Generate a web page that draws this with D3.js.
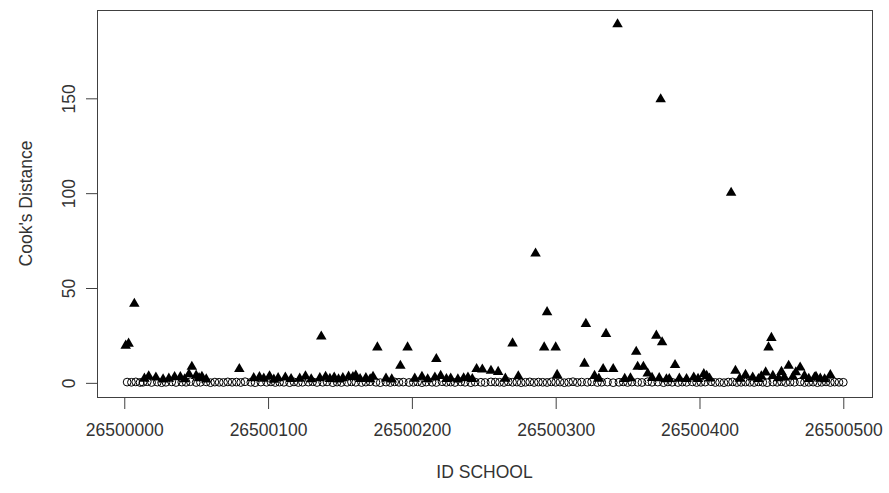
<html>
<head>
<meta charset="utf-8">
<script src="https://d3js.org/d3.v7.min.js"></script>
<style type="text/css">
    body { margin: 0; background: #ffffff; }
    #chart { width: 889px; height: 493px; }
    text { font-family: "Liberation Sans", Arial, sans-serif; fill: #333333; }
</style>
</head>
<body>
<div id="chart"></div>
<script type="text/javascript">

    // schools with small influence (open circles), id offset from 26500000
    const circleIds = [2, 5, 8, 11, 13, 16, 19, 23, 26, 29, 33, 36, 40, 43, 46, 50, 53, 57, 60, 63, 66, 69, 72, 75, 78, 81, 84, 88, 91, 95,
        99, 102, 105, 108, 111, 115, 118, 121, 124, 128, 131, 134, 138, 141, 145, 148, 151, 155, 158, 161, 165, 168, 171, 175, 178, 182,
        185, 188, 191, 194, 198, 201, 204, 207, 210, 214, 217, 221, 224, 227, 230, 234, 237, 241, 244, 248, 251, 255, 258, 261, 264, 267,
        270, 273, 276, 279, 282, 285, 288, 291, 294, 297, 300, 303, 306, 309, 312, 315, 318, 322, 325, 329, 332, 336, 340, 344, 347, 350,
        353, 357, 360, 364, 367, 371, 375, 378, 381, 385, 388, 391, 395, 398, 401, 404, 408, 411, 414, 417, 420, 423, 426, 429, 432, 435,
        438, 441, 444, 447, 451, 454, 457, 460, 463, 466, 470, 473, 476, 479, 482, 485, 488, 491, 494, 497, 500]
    const circleVals = [0.4, 0.3, 0.5, 0.2, 0.3, 0.6, 0.2, 0.4, 0.1, 0.3, 0.5, 0.2, 0.4, 0.3, 0.6, 0.2, 0.3, 0.5, 0.1, 0.4, 0.3, 0.2, 0.5, 0.3, 0.4, 0.2, 0.6, 0.3, 0.1, 0.4,
        0.3, 0.5, 0.2, 0.4, 0.3, 0.1, 0.5, 0.2, 0.3, 0.4, 0.6, 0.2, 0.3, 0.5, 0.1, 0.4, 0.2, 0.3, 0.5, 0.3, 0.2, 0.4, 0.6, 0.3, 0.1, 0.4,
        0.2, 0.5, 0.3, 0.4, 0.2, 0.3, 0.5, 0.1, 0.4, 0.3, 0.2, 0.6, 0.3, 0.4, 0.2, 0.5, 0.3, 0.1, 0.4, 0.3, 0.2, 0.5, 0.4, 0.3, 0.2, 0.6,
        0.3, 0.4, 0.1, 0.3, 0.5, 0.2, 0.4, 0.3, 0.2, 0.5, 0.3, 0.4, 0.1, 0.3, 0.6, 0.2, 0.4, 0.3, 0.5, 0.2, 0.3, 0.4, 0.1, 0.3, 0.5, 0.2,
        0.4, 0.3, 0.2, 0.6, 0.3, 0.4, 0.1, 0.5, 0.3, 0.2, 0.4, 0.3, 0.5, 0.2, 0.3, 0.4, 0.6, 0.2, 0.3, 0.1, 0.4, 0.5, 0.2, 0.3, 0.4, 0.3,
        0.2, 0.5, 0.3, 0.1, 0.4, 0.3, 0.6, 0.2, 0.4, 0.3, 0.5, 0.2, 0.3, 0.4, 0.1, 0.3, 0.5, 0.2, 0.4, 0.3, 0.3]

    // schools with large influence (filled triangles)
    const triIds = [1, 3, 7, 14, 17, 22, 27, 31, 35, 39, 42, 45, 47, 50, 52, 54, 57, 80, 90, 94, 97, 101, 104, 107, 112, 116, 122, 126, 130,
        136, 137, 140, 143, 146, 149, 152, 156, 159, 161, 164, 168, 171, 173, 176, 182, 186, 192, 197, 202, 207, 211, 216, 217, 220, 224,
        227, 232, 236, 239, 242, 245, 249, 255, 260, 265, 270, 274, 286, 292, 294, 300, 301, 320, 321, 327, 330, 333, 335, 340, 343, 348,
        352, 356, 357, 361, 364, 367, 370, 372, 373, 374, 377, 379, 383, 386, 391, 396, 399, 403, 405, 407, 422, 425, 428, 432, 437, 441,
        443, 446, 448, 450, 451, 455, 457, 459, 462, 465, 467, 470, 473, 476, 480, 481, 484, 487, 491]
    const triVals = [19.6, 20.7, 41.7, 2.2, 3.5, 2.8, 1.8, 2.2, 3.1, 3.0, 1.9, 4.5, 8.5, 3.8, 2.5, 3.2, 1.8, 7.3, 2.5, 3.0, 2.2, 3.5, 1.7, 2.5, 2.8, 2.0, 2.2, 3.5, 1.9,
        2.5, 24.4, 3.2, 2.1, 2.8, 1.8, 2.5, 3.3, 3.0, 3.8, 2.0, 2.5, 1.9, 3.2, 18.7, 2.3, 1.8, 9.0, 18.7, 2.2, 3.2, 1.9, 2.8, 12.6, 3.7, 2.0,
        2.3, 1.8, 2.4, 2.8, 2.0, 7.3, 7.0, 6.4, 5.8, 2.2, 20.8, 3.5, 68.2, 18.7, 37.3, 18.7, 4.2, 10.1, 31.1, 3.7, 2.2, 7.3, 25.8, 7.3, 189, 2.1,
        2.4, 16.4, 8.5, 8.5, 4.9, 2.6, 24.9, 2.5, 149.5, 21.4, 1.9, 2.0, 9.4, 2.2, 2.0, 2.8, 2.1, 4.6, 3.7, 2.3, 100.2, 6.4, 2.2, 4.2, 2.8, 2.0,
        3.4, 5.5, 18.7, 23.7, 3.7, 2.4, 5.8, 2.9, 9.0, 3.2, 5.6, 8.1, 3.7, 2.1, 2.8, 3.2, 2.2, 1.9, 4.1]

    const xTicks = [0, 100, 200, 300, 400, 500]
    const yTicks = [0, 50, 100, 150]
    const idBase = 26500000

    const width = 889
    const height = 493
    const margin = { left: 97, right: 17, top: 10, bottom: 96 }

    const circles = circleIds.map((id, i) => ({ id: id, v: circleVals[i] }))
    const tris = triIds.map((id, i) => ({ id: id, v: triVals[i] }))
    const all = circles.concat(tris)

    // R style 4% padding of the data range
    const xExt = d3.extent(all, d => d.id)
    const yExt = d3.extent(all, d => d.v)
    const xPad = (xExt[1] - xExt[0]) * 0.04
    const yPad = (yExt[1] - yExt[0]) * 0.04

    const x = d3.scaleLinear()
        .domain([xExt[0] - xPad, xExt[1] + xPad])
        .range([margin.left, width - margin.right])
    const y = d3.scaleLinear()
        .domain([yExt[0] - yPad, yExt[1] + yPad])
        .range([height - margin.bottom, margin.top])

    const svg = d3.select("#chart").append("svg")
        .attr("width", width)
        .attr("height", height)

    const xAxis = svg.append("g")
        .attr("transform", `translate(0,${height - margin.bottom})`)
        .call(d3.axisBottom(x).tickValues(xTicks).tickSize(12).tickPadding(15)
            .tickFormat(d => String(idBase + d)))
    xAxis.select(".domain").remove()
    xAxis.selectAll("line").attr("stroke", "#404040")
    xAxis.selectAll("text").attr("font-size", "17.5px").attr("fill", "#333")
        .style("font-family", "'Liberation Sans', Arial, sans-serif")

    const yAxis = svg.append("g")
        .attr("transform", `translate(${margin.left},0)`)
        .call(d3.axisLeft(y).tickValues(yTicks).tickSize(11))
    yAxis.select(".domain").remove()
    yAxis.selectAll("line").attr("stroke", "#404040")
    yAxis.selectAll("text")
        .attr("x", null).attr("dy", null)
        .attr("text-anchor", "middle")
        .attr("transform", "translate(-22,0) rotate(-90)")
        .attr("font-size", "17.5px").attr("fill", "#333")
        .style("font-family", "'Liberation Sans', Arial, sans-serif")

    // plot box
    svg.append("rect")
        .attr("x", margin.left + 0.5)
        .attr("y", margin.top + 0.5)
        .attr("width", width - margin.left - margin.right)
        .attr("height", height - margin.top - margin.bottom)
        .attr("fill", "none")
        .attr("stroke", "#404040")
        .attr("stroke-width", 1)

    svg.append("g")
        .selectAll("circle")
        .data(circles)
        .join("circle")
        .attr("cx", d => x(d.id))
        .attr("cy", d => y(d.v))
        .attr("r", 3.9)
        .attr("fill", "none")
        .attr("stroke", "#000")
        .attr("stroke-width", 1)

    const tri = d3.symbol().type(d3.symbolTriangle).size(48)
    svg.append("g")
        .selectAll("path")
        .data(tris)
        .join("path")
        .attr("d", tri)
        .attr("transform", d => `translate(${x(d.id)},${y(d.v)})`)
        .attr("fill", "#000")

    svg.append("text")
        .attr("x", (margin.left + width - margin.right) / 2)
        .attr("y", 478)
        .attr("text-anchor", "middle")
        .attr("font-size", "17.5px")
        .text("ID SCHOOL")

    svg.append("text")
        .attr("transform", `translate(32,${(margin.top + height - margin.bottom) / 2}) rotate(-90)`)
        .attr("text-anchor", "middle")
        .attr("font-size", "17.5px")
        .text("Cook's Distance")

</script>
</body>
</html>
